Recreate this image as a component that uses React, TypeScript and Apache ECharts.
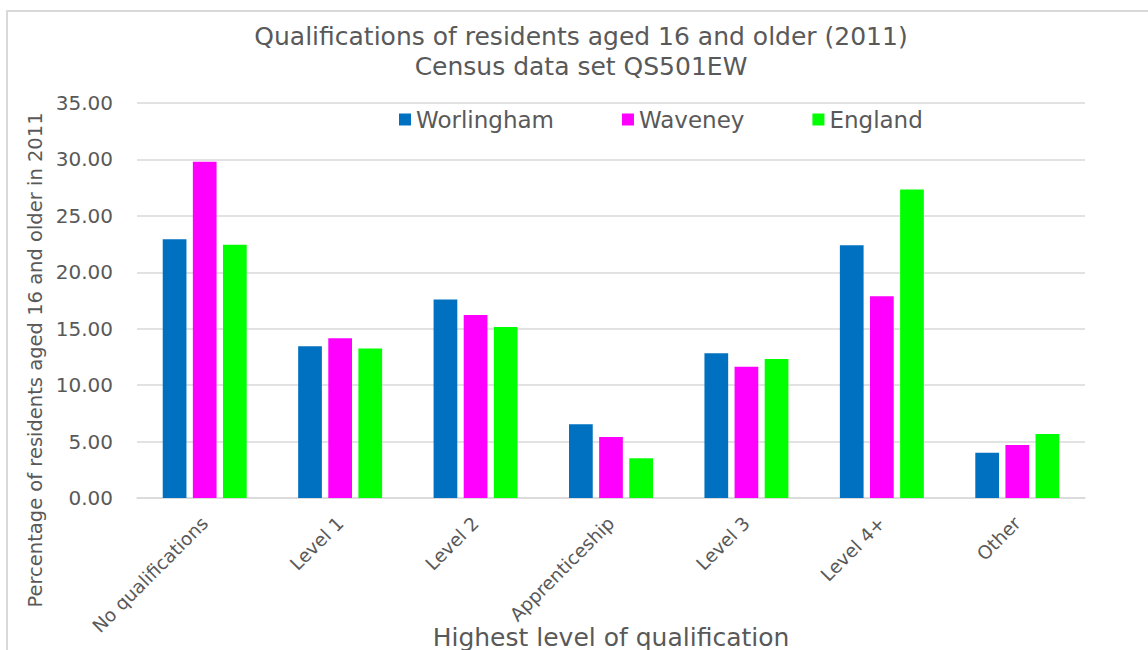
import React, { useEffect, useRef } from "react";
import * as echarts from "echarts";

const categories = ["No qualifications", "Level 1", "Level 2", "Apprenticeship", "Level 3", "Level 4+", "Other"];
const worlingham = [22.93, 13.45, 17.58, 6.53, 12.83, 22.4, 4.02];
const waveney = [29.79, 14.16, 16.22, 5.41, 11.64, 17.88, 4.7];
const england = [22.43, 13.24, 15.16, 3.52, 12.32, 27.33, 5.67];
const seriesNames = ["Worlingham", "Waveney", "England"];
const yTicks = { min: 0, max: 35, interval: 5 };

const FONT = "DejaVu Sans";
const TXT = "#595959";

export default function App() {
  const ref = useRef<HTMLDivElement>(null);
  useEffect(() => {
    document.body.style.margin = "0";
    const chart = echarts.init(ref.current!, null, { renderer: "svg" });
    chart.setOption({
      animation: false,
      backgroundColor: "#ffffff",
      textStyle: { fontFamily: FONT, color: TXT },
      graphic: [
        {
          type: "rect",
          shape: { x: 7, y: 11, width: 1300, height: 800 },
          style: { fill: "none", stroke: "#d9d9d9", lineWidth: 2 },
          silent: true,
        },
        {
          type: "text",
          x: 581,
          y: 36,
          style: {
            text: "Qualifications of residents aged 16 and older (2011)",
            font: `25px "${FONT}"`,
            fill: TXT,
            textAlign: "center",
            textVerticalAlign: "middle",
          },
        },
        {
          type: "text",
          x: 581,
          y: 66,
          style: {
            text: "Census data set QS501EW",
            font: `25px "${FONT}"`,
            fill: TXT,
            textAlign: "center",
            textVerticalAlign: "middle",
          },
        },
        {
          type: "text",
          x: 35,
          y: 360,
          rotation: Math.PI / 2,
          style: {
            text: "Percentage of residents aged 16 and older in 2011",
            font: `19.5px "${FONT}"`,
            fill: TXT,
            textAlign: "center",
            textVerticalAlign: "middle",
          },
        },
        {
          type: "text",
          x: 611,
          y: 637,
          style: {
            text: "Highest level of qualification",
            font: `25px "${FONT}"`,
            fill: TXT,
            textAlign: "center",
            textVerticalAlign: "middle",
          },
        },
      ],
      legend: {
        data: seriesNames,
        left: 399,
        top: 108,
        padding: 0,
        icon: "rect",
        itemWidth: 12,
        itemHeight: 12,
        itemGap: 68,
        textStyle: { fontFamily: FONT, fontSize: 23, color: TXT },
      },
      grid: { left: 137, width: 948, top: 103, height: 395, containLabel: false },
      xAxis: {
        type: "category",
        data: categories,
        axisLine: { lineStyle: { color: "#d9d9d9", width: 1.5 } },
        axisTick: { show: false },
        axisLabel: {
          rotate: 45,
          interval: 0,
          margin: 22,
          fontFamily: FONT,
          fontSize: 18.5,
          color: TXT,
        },
      },
      yAxis: {
        type: "value",
        min: yTicks.min,
        max: yTicks.max,
        interval: yTicks.interval,
        axisLine: { show: false },
        axisTick: { show: false },
        splitLine: { lineStyle: { color: "#d9d9d9", width: 1.5 } },
        axisLabel: {
          formatter: (v: number) => v.toFixed(2),
          margin: 24,
          fontFamily: FONT,
          fontSize: 20,
          color: TXT,
        },
      },
      series: [
        { name: seriesNames[0], type: "bar", data: worlingham, itemStyle: { color: "#0070c0" }, barGap: "27%", barCategoryGap: "38%" },
        { name: seriesNames[1], type: "bar", data: waveney, itemStyle: { color: "#ff00ff" } },
        { name: seriesNames[2], type: "bar", data: england, itemStyle: { color: "#00ff00" } },
      ],
    });
    return () => chart.dispose();
  }, []);
  return <div ref={ref} style={{ width: 1148, height: 650 }} />;
}
